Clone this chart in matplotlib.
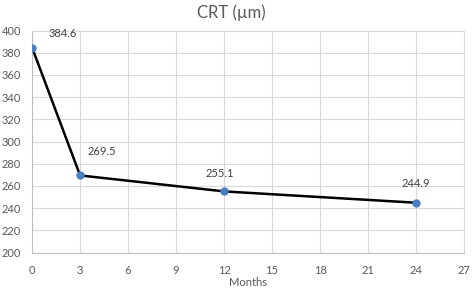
import matplotlib
matplotlib.use("Agg")
import matplotlib.pyplot as plt

months = [0, 3, 12, 24]
crt = [384.6, 269.5, 255.1, 244.9]
labels = ["384.6", "269.5", "255.1", "244.9"]
# label offsets in points (dx, dy) relative to each marker
offsets = [(22, 10), (16, 17), (-3, 13), (0, 14)]

GRAY = "#595959"
plt.rcParams["font.family"] = ["Lato", "DejaVu Sans"]

fig = plt.figure(figsize=(4.72, 2.88), dpi=100)
ax = fig.add_axes([0.068, 0.123, 0.915, 0.771])

ax.plot(months, crt, color="black", lw=1.8, zorder=3)
ax.plot(months, crt, "o", color="#4a7ec4", ms=5, zorder=4)
for x, y, t, (dx, dy) in zip(months, crt, labels, offsets):
    ax.annotate(t, (x, y), xytext=(dx, dy), textcoords="offset points",
                ha="center", va="center", fontsize=8, color="#404040")

ax.set_xlim(0, 27)
ax.set_ylim(200, 400)
ax.set_xticks(range(0, 28, 3))
ax.set_yticks(range(200, 401, 20))
ax.grid(True, color="#d9d9d9", lw=0.8)
ax.set_axisbelow(True)
for s in ("top", "right"):
    ax.spines[s].set_color("#d9d9d9")
for s in ("left", "bottom"):
    ax.spines[s].set_color("#bfbfbf")
for s in ax.spines.values():
    s.set_linewidth(0.8)
ax.tick_params(axis="x", length=0, labelsize=8, labelcolor=GRAY, pad=9)
ax.tick_params(axis="y", length=0, labelsize=8, labelcolor=GRAY, pad=8)
ax.set_xlabel("Months", fontsize=8, color=GRAY, labelpad=1)
fig.text(0.49, 0.955, "CRT (µm)", ha="center", va="center",
         fontsize=12, color=GRAY)

fig.savefig("out.png", dpi=100)
